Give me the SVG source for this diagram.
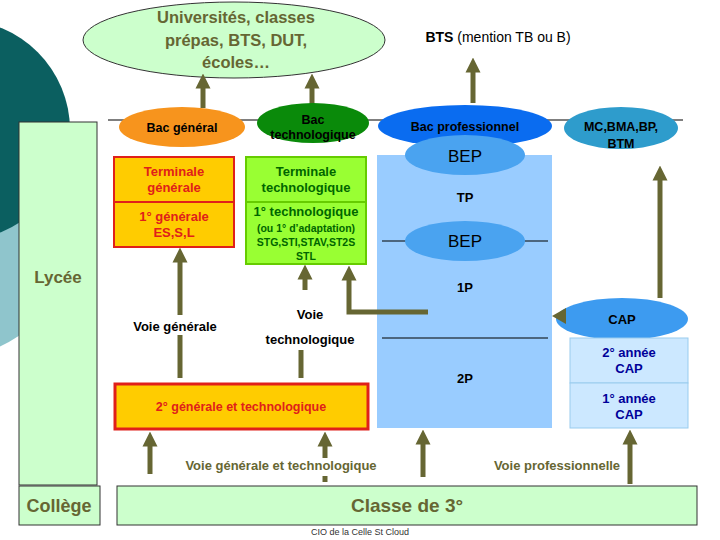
<svg xmlns="http://www.w3.org/2000/svg" width="720" height="540" viewBox="0 0 720 540">
<defs>
<style>
text{font-family:"Liberation Sans",Arial,sans-serif;text-anchor:middle}
.b{font-weight:bold}
.n{font-weight:normal}
.ol{fill:#666633}
.ar{stroke:#666633;stroke-width:5;fill:none}
.bk{stroke:#000;stroke-width:1.2}
</style>
<marker id="ah" viewBox="0 0 10 10" refX="3" refY="5" markerWidth="3" markerHeight="3.2" orient="auto" markerUnits="strokeWidth">
<path d="M0,0 L10,5 L0,10 z" fill="#666633"/>
</marker>
</defs>
<rect width="720" height="540" fill="#fff"/>
<g id="bg">
<circle cx="-60" cy="220" r="140" fill="#8fc5cc"/>
<circle cx="-40" cy="130" r="110" fill="#0b5f60"/>
</g>
<g id="lycee"><rect x="19" y="122" width="78" height="363" fill="#ccffcc" stroke="#333" stroke-width="1"/><text x="58" y="283" font-size="17" class="ol b">Lycée</text></g>
<g id="college"><rect x="19" y="486" width="81" height="39" fill="#ccffcc" stroke="#333"/><text x="59" y="512" font-size="18" class="ol b">Collège</text></g>
<g id="classe3"><rect x="117" y="486" width="580" height="39" fill="#ccffcc" stroke="#333"/><text x="407" y="512" font-size="19" class="ol b">Classe de 3°</text></g>
<text x="360" y="535" font-size="9" class="n" fill="#333">CIO de la Celle St Cloud</text>
<g id="bgline"><line x1="108" y1="120" x2="683" y2="120" class="bk"/></g>
<g id="univ"><ellipse cx="234" cy="40" rx="151" ry="38" fill="#ccffcc" stroke="#333"/>
<text font-size="16.5" class="ol b"><tspan x="236" y="23">Universités, classes</tspan><tspan x="236" y="46">prépas, BTS, DUT,</tspan><tspan x="236" y="68">écoles…</tspan></text></g>
<g id="bts"><text x="498" y="42" font-size="14"><tspan class="b">BTS</tspan> (mention TB ou B)</text></g>
<g id="blue"><rect x="377" y="155" width="175" height="273" fill="#99ccff"/>
<line x1="382" y1="241" x2="548" y2="241" class="bk"/>
<line x1="382" y1="338" x2="548" y2="338" class="bk"/>
<text x="465" y="202" font-size="13" class="b">TP</text><text x="465" y="292" font-size="13" class="b">1P</text><text x="465" y="383" font-size="13" class="b">2P</text></g>
<g id="conn">
<line x1="203" y1="108" x2="203" y2="84" class="ar" marker-end="url(#ah)"/>
<line x1="312" y1="108" x2="312" y2="84" class="ar" marker-end="url(#ah)"/>
<line x1="473" y1="103" x2="473" y2="68" class="ar" marker-end="url(#ah)"/>
<line x1="660" y1="298" x2="660" y2="176" class="ar" marker-end="url(#ah)"/>
<line x1="180" y1="378" x2="180" y2="335" class="ar"/>
<line x1="180" y1="315" x2="180" y2="258" class="ar" marker-end="url(#ah)"/>
<line x1="301" y1="378" x2="301" y2="350" class="ar"/>
<line x1="305" y1="290" x2="305" y2="275" class="ar" marker-end="url(#ah)"/>
<path d="M428,312 L349,312 L349,276" class="ar" marker-end="url(#ah)"/>
<line x1="150" y1="474" x2="150" y2="442" class="ar" marker-end="url(#ah)"/>
<line x1="325" y1="458" x2="325" y2="442" class="ar" marker-end="url(#ah)"/>
<line x1="325" y1="476" x2="325" y2="482" class="ar"/>
<line x1="423" y1="477" x2="423" y2="440" class="ar" marker-end="url(#ah)"/>
<line x1="630" y1="484" x2="630" y2="440" class="ar" marker-end="url(#ah)"/>
</g>
<g id="bacgen"><ellipse cx="182" cy="127" rx="63" ry="20" fill="#f7941d"/><text x="182" y="132" font-size="12.5" class="b">Bac général</text></g>
<g id="bactech"><ellipse cx="313" cy="123" rx="56" ry="20" fill="#0a8a0a"/><text font-size="12.5" class="b"><tspan x="313" y="124">Bac</tspan><tspan x="313" y="139">technologique</tspan></text></g>
<g id="bacpro"><ellipse cx="465" cy="126" rx="87" ry="21" fill="#0a6cf0"/><text x="465" y="131" font-size="12.5" class="b">Bac professionnel</text></g>
<g id="mc"><ellipse cx="621" cy="128" rx="57" ry="21" fill="#2e9ccc"/><text font-size="12.5" class="b"><tspan x="621" y="131">MC,BMA,BP,</tspan><tspan x="621" y="148">BTM</tspan></text></g>
<g id="bep1"><ellipse cx="465" cy="155" rx="60" ry="20" fill="#4aa3f0"/><text x="465" y="162" font-size="17">BEP</text></g>
<g id="bep2"><ellipse cx="465" cy="241" rx="60" ry="20" fill="#4aa3f0"/><text x="465" y="247" font-size="17">BEP</text></g>
<g id="cap"><ellipse cx="622" cy="319" rx="66" ry="21" fill="#3d9bf0"/><text x="622" y="324" font-size="13" class="b">CAP</text></g>
<g id="conn2"><path d="M552,316 L566,308 L566,324 z" fill="#666633"/></g>
<g id="capyears"><rect x="570" y="338" width="118" height="45" fill="#cce8ff" stroke="#99ccee"/><rect x="570" y="383" width="118" height="45" fill="#cce8ff" stroke="#99ccee"/>
<text font-size="13" fill="#000099" class="b"><tspan x="629" y="357">2° année</tspan><tspan x="629" y="373">CAP</tspan><tspan x="629" y="403">1° année</tspan><tspan x="629" y="419">CAP</tspan></text></g>
<g id="gen"><rect x="114" y="157" width="120" height="45" fill="#ffcc00" stroke="#e0201a" stroke-width="2"/><rect x="114" y="202" width="120" height="45" fill="#ffcc00" stroke="#e0201a" stroke-width="2"/>
<text font-size="13" fill="#e0201a" class="b"><tspan x="174" y="176">Terminale</tspan><tspan x="174" y="192">générale</tspan><tspan x="174" y="221">1° générale</tspan><tspan x="174" y="237">ES,S,L</tspan></text></g>
<g id="tech"><rect x="246" y="157" width="120" height="45" fill="#99ff33" stroke="#66cc00" stroke-width="2"/><rect x="246" y="202" width="120" height="62" fill="#99ff33" stroke="#66cc00" stroke-width="2"/>
<text fill="#006600" class="b"><tspan x="306" y="176" font-size="13">Terminale</tspan><tspan x="306" y="192" font-size="13">technologique</tspan><tspan x="306" y="216" font-size="13">1° technologique</tspan><tspan x="306" y="232" font-size="10.5">(ou 1° d’adaptation)</tspan><tspan x="306" y="246" font-size="10.5">STG,STI,STAV,ST2S</tspan><tspan x="306" y="260" font-size="10.5">STL</tspan></text></g>
<g id="seconde"><rect x="115" y="384" width="253" height="45" fill="#ffcc00" stroke="#e0201a" stroke-width="3"/><text x="241" y="411" font-size="12.5" fill="#e0201a" class="b">2° générale et technologique</text></g>
<g id="labels" class="b"><text x="175" y="331" font-size="13" fill="#000">Voie générale</text>
<text font-size="13" fill="#000"><tspan x="310" y="319">Voie</tspan><tspan x="310" y="344">technologique</tspan></text>
<text x="281" y="470" font-size="13" class="ol">Voie générale et technologique</text>
<text x="557" y="470" font-size="13" class="ol">Voie professionnelle</text></g>
</svg>
